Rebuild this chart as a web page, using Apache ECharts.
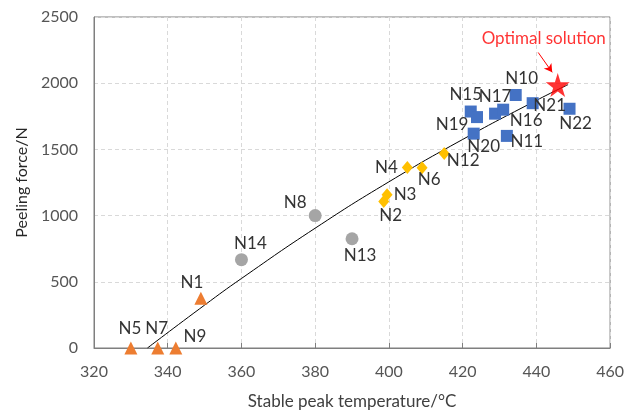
<!DOCTYPE html>
<html>
<head>
<meta charset="utf-8">
<script src="https://cdn.jsdelivr.net/npm/echarts@6/dist/echarts.min.js"></script>
<style>
  html, body { margin: 0; padding: 0; background: #fff; }
  #chart { width: 627px; height: 415px; }
</style>
</head>
<body>
<div id="chart"></div>
<script>
// Group N1, N5, N7, N9 (triangles)
const triNames = ['N5', 'N7', 'N9', 'N1'];
const triTemp  = [330, 337.3, 342.2, 349];
const triForce = [0, 0, 0, 375];

// Group N8, N13, N14 (circles)
const cirNames = ['N14', 'N8', 'N13'];
const cirTemp  = [360, 380, 390];
const cirForce = [667, 1000, 825];

// Group N2, N3, N4, N6, N12 (diamonds)
const diaNames = ['N2', 'N3', 'N4', 'N6', 'N12'];
const diaTemp  = [398.6, 399.5, 405, 409, 415];
const diaForce = [1107, 1157, 1364, 1362, 1469];

// Group N10, N11, N15-N17, N19-N22 (squares)
const sqNames = ['N10', 'N15', 'N19', 'N17', 'N16', 'N21', 'N22', 'N20', 'N11'];
const sqTemp  = [434.4, 422.2, 423.9, 428.8, 431, 439, 449, 423, 432];
const sqForce = [1911, 1786, 1744, 1770, 1800, 1849, 1807, 1619, 1602];

// Optimal solution
const optTemp = [445.8];
const optForce = [1986];

// Fitted trend curve, sampled along the drawn line
const trendTemp  = [334.5, 350, 360, 380, 400, 420, 440, 448.6];
const trendForce = [0, 324, 525, 905, 1255, 1575, 1870, 1989];

// Axis ticks
const xTicks = [320, 340, 360, 380, 400, 420, 440, 460];
const yTicks = [0, 500, 1000, 1500, 2000, 2500];

// Label placement (pixel offsets from each marker's centre)
const labelOffsets = {
  N5: [-1, -19], N7: [-1, -19], N9: [19, -11], N1: [-9, -16],
  N14: [9, -16], N8: [-20, -13], N13: [8, 17],
  N2: [7, 14], N3: [18, 0], N4: [-21, 0], N6: [7, 12], N12: [19, 7],
  N15: [-5, -17], N19: [-25, 7], N17: [0, -17], N16: [23, 11],
  N20: [10, 13], N11: [20, 6], N10: [6, -16], N21: [17, 2], N22: [6, 15]
};

const FONT = 'Lato';
const LABEL_COLOR = '#333333';

function points(names, xs, ys) {
  return names.map((n, i) => ({
    name: n,
    value: [xs[i], ys[i]],
    label: { offset: labelOffsets[n] }
  }));
}

function groupSeries(names, xs, ys, symbol, size, color) {
  return {
    type: 'scatter',
    symbol: symbol,
    symbolSize: size,
    itemStyle: { color: color, opacity: 1 },
    z: 3,
    label: {
      show: true,
      position: 'inside',
      formatter: '{b}',
      color: LABEL_COLOR,
      fontFamily: FONT,
      fontSize: 17,
      align: 'center',
      verticalAlign: 'middle'
    },
    emphasis: { disabled: true },
    data: points(names, xs, ys)
  };
}

const chart = echarts.init(document.getElementById('chart'), null, { renderer: 'canvas' });

const star = 'path://M50,0 L61.2,34.5 L97.6,34.5 L68.2,55.9 L79.4,90.5 L50,69.1 L20.6,90.5 L31.8,55.9 L2.4,34.5 L38.8,34.5 Z';

chart.setOption({
  animation: false,
  backgroundColor: '#ffffff',
  grid: {
    left: 94, right: 15, top: 17, bottom: 64,
    show: true, borderColor: '#7f7f7f', borderWidth: 1, backgroundColor: 'transparent'
  },
  xAxis: {
    type: 'value',
    min: xTicks[0], max: xTicks[xTicks.length - 1], interval: 20,
    name: 'Stable peak temperature/\u00B0C',
    nameLocation: 'middle',
    nameGap: 45,
    nameTextStyle: { fontFamily: FONT, fontSize: 17, color: '#404040' },
    axisLine: { show: true, lineStyle: { color: '#7f7f7f', width: 1 } },
    axisTick: { show: true, inside: true, length: 5, lineStyle: { color: '#7f7f7f' } },
    axisLabel: { fontFamily: FONT, fontSize: 16, color: '#555555', margin: 16 },
    splitLine: { show: true, lineStyle: { color: '#d9d9d9', type: [4, 3] } }
  },
  yAxis: {
    type: 'value',
    min: yTicks[0], max: yTicks[yTicks.length - 1], interval: 500,
    name: 'Peeling force/N',
    nameLocation: 'middle',
    nameGap: 61,
    nameTextStyle: { fontFamily: FONT, fontSize: 16, color: '#262626' },
    axisLine: { show: true, lineStyle: { color: '#7f7f7f', width: 1 } },
    axisTick: { show: false },
    axisLabel: {
      fontFamily: FONT, fontSize: 16, color: '#555555', margin: 16,
      formatter: v => String(v)
    },
    splitLine: { show: true, lineStyle: { color: '#d9d9d9', type: [4, 3] } }
  },
  series: [
    {
      type: 'line',
      smooth: true,
      showSymbol: false,
      symbol: 'none',
      lineStyle: { color: '#000000', width: 1 },
      z: 2,
      silent: true,
      data: trendTemp.map((t, i) => [t, trendForce[i]])
    },
    groupSeries(triNames, triTemp, triForce, 'triangle', 13, '#ed7d31'),
    groupSeries(cirNames, cirTemp, cirForce, 'circle', 13, '#a5a5a5'),
    groupSeries(diaNames, diaTemp, diaForce, 'diamond', [11, 13], '#ffc000'),
    groupSeries(sqNames, sqTemp, sqForce, 'rect', 12, '#4472c4'),
    {
      type: 'scatter',
      symbol: star,
      symbolSize: 24,
      itemStyle: { color: '#ff0000' },
      z: 4,
      label: {
        show: true,
        position: 'inside',
        formatter: 'Optimal solution',
        color: '#ff0000',
        fontFamily: FONT,
        fontSize: 17,
        align: 'center',
        verticalAlign: 'middle',
        offset: [-14, -47]
      },
      emphasis: { disabled: true },
      data: optTemp.map((t, i) => [t, optForce[i]]),
      markLine: {
        silent: true,
        symbol: ['none', 'arrow'],
        symbolSize: [7, 8],
        label: { show: false },
        lineStyle: { color: '#ff0000', width: 1, type: 'solid' },
        data: [[{ coord: [440.5, 2232] }, { coord: [444.3, 2082] }]]
      }
    }
  ]
});
</script>
</body>
</html>
